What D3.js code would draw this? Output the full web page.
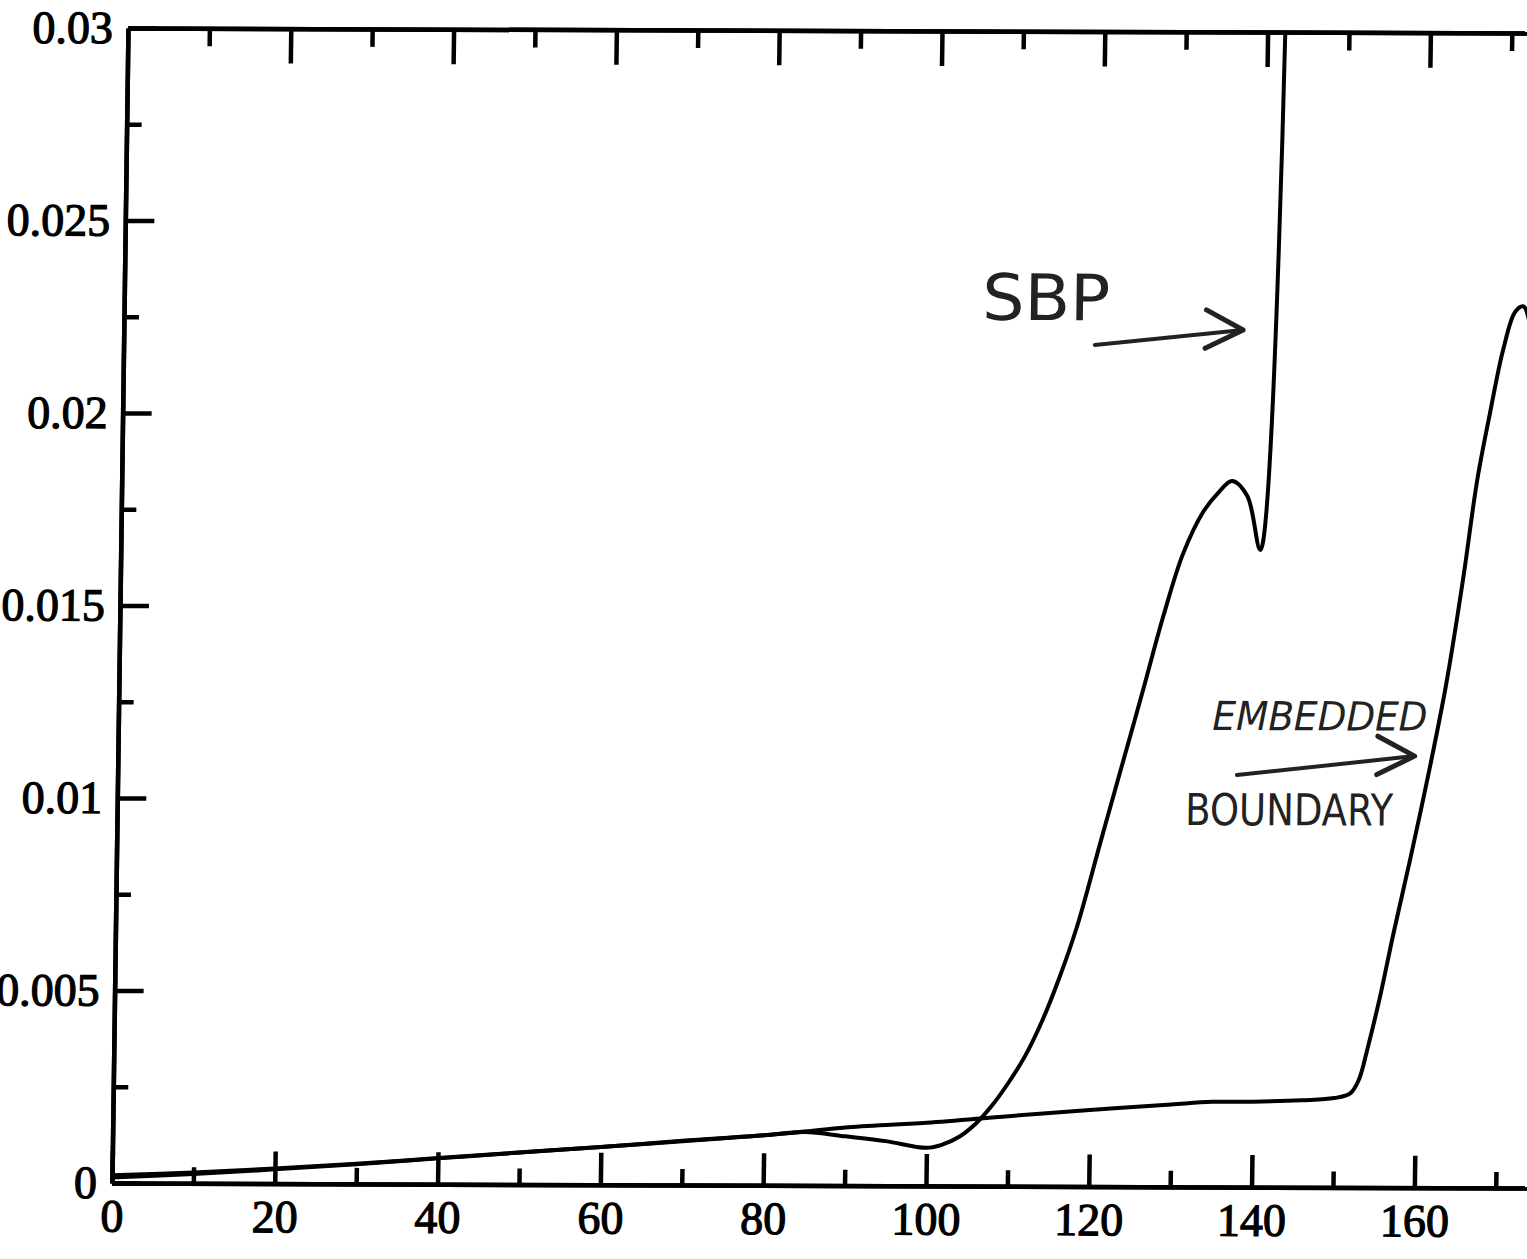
<!DOCTYPE html>
<html>
<head>
<meta charset="utf-8">
<script src="https://d3js.org/d3.v7.min.js"></script>
<style>
  body { margin: 0; background: #fff; }
  svg { display: block; }
</style>
</head>
<body>
<div id="chart"></div>
<script>
// values
const sbpX = [0, 10, 20, 30, 40, 50, 60, 70, 80, 85, 90, 95, 100, 102, 104, 106, 108, 110, 112, 114, 116, 118.1, 120.8, 123.5, 125.8, 128.2, 130.5, 132.9, 134.8, 136.4, 138.3, 140.0, 142.2];
const sbpY = [0.00014, 0.00024, 0.00037, 0.00051, 0.00067, 0.00083, 0.00098, 0.00114, 0.0013, 0.00139, 0.00128, 0.00116, 0.00099, 0.00108, 0.00128, 0.00162, 0.0021, 0.0027, 0.0034, 0.0043, 0.0054, 0.00674, 0.0089, 0.01105, 0.01288, 0.01483, 0.01644, 0.01753, 0.01805, 0.01834, 0.01795, 0.01655, 0.0305];

const embX = [0, 10, 20, 30, 40, 50, 60, 70, 80, 85, 90, 100, 110, 120, 130, 135, 140, 146, 150, 152, 153, 154, 155.5, 157, 158.9, 161.2, 163.1, 165, 166.5, 168, 169.5, 170.9, 171.9, 173, 174.5];
const embY = [0.0002, 0.00028, 0.00039, 0.00052, 0.00068, 0.00083, 0.00098, 0.00115, 0.0013, 0.0014, 0.00151, 0.00164, 0.00182, 0.00199, 0.00214, 0.00221, 0.00222, 0.00226, 0.00232, 0.00245, 0.0028, 0.0036, 0.005, 0.0066, 0.0085, 0.01093, 0.01314, 0.01589, 0.01836, 0.02016, 0.02179, 0.02276, 0.0229, 0.0222, 0.021];

const xMajor = [0, 20, 40, 60, 80, 100, 120, 140, 160];
const xMinor = [10, 30, 50, 70, 90, 110, 130, 150, 170];
const yMajor = [0, 0.005, 0.01, 0.015, 0.02, 0.025, 0.03];
const yMinor = [0.0025, 0.0075, 0.0125, 0.0175, 0.0225, 0.0275];
const yTickLabels = ["0", "0.005", "0.01", "0.015", "0.02", "0.025", "0.03"];

// handwritten notes on the scan
const noteText = ["SBP", "EMBEDDED", "BOUNDARY"];
const noteX = [105.4, 134.4, 131.2];
const noteY = [0.0225, 0.01187, 0.0094];
const arrowFrom = [[119.3, 0.02186], [137.5, 0.0107]];
const arrowTo = [[137.5, 0.02226], [159.3, 0.01121]];

const svgWidth = 1527;
const svgHeight = 1259;
const width = 180 * 8.14;
const height = 1155;

const svg = d3.select("#chart")
  .append("svg")
  .attr("width", svgWidth)
  .attr("height", svgHeight);

// the scan is a little skewed, so the whole plot is sheared to match
const g = svg.append("g")
  .attr("transform", "matrix(1,0.0036,-0.0139,1,128,28)");

const x = d3.scaleLinear().domain([0, 180]).range([0, width]);
const y = d3.scaleLinear().domain([0, 0.03]).range([height, 0]);

g.append("clipPath").attr("id", "plot-clip")
  .append("rect").attr("width", width).attr("height", height);

const lineWidth = 4.5;

function styleAxis(sel) {
  sel.select(".domain").attr("stroke", "#000").attr("stroke-width", lineWidth);
  sel.selectAll(".tick line").attr("stroke", "#000").attr("stroke-width", lineWidth);
  sel.selectAll(".tick text")
    .attr("fill", "#000")
    .attr("stroke", "#000")
    .attr("stroke-width", 1.2)
    .style("font-family", "'Liberation Serif', 'Times New Roman', serif")
    .style("font-size", "46px");
}

// bottom axis
g.append("g")
  .attr("transform", `translate(0,${height})`)
  .call(d3.axisBottom(x).tickValues(xMinor).tickSizeInner(-16).tickSizeOuter(0).tickFormat(""))
  .call(styleAxis);
g.append("g")
  .attr("transform", `translate(0,${height})`)
  .call(d3.axisBottom(x).tickValues(xMajor).tickSizeInner(-32).tickSizeOuter(0).tickPadding(16).tickFormat(d3.format("d")))
  .call(styleAxis);

// top axis
g.append("g")
  .call(d3.axisTop(x).tickValues(xMinor).tickSizeInner(-18).tickSizeOuter(0).tickFormat(""))
  .call(styleAxis);
g.append("g")
  .call(d3.axisTop(x).tickValues(xMajor.slice(1)).tickSizeInner(-35).tickSizeOuter(0).tickFormat(""))
  .call(styleAxis);

// left axis
g.append("g")
  .call(d3.axisLeft(y).tickValues(yMinor).tickSizeInner(-15).tickSizeOuter(0).tickFormat(""))
  .call(styleAxis);
g.append("g")
  .call(d3.axisLeft(y).tickValues(yMajor).tickSizeInner(-29).tickSizeOuter(0).tickPadding(15)
    .tickFormat((d, i) => yTickLabels[i]))
  .call(styleAxis);

// curves
const line = d3.line()
  .x(d => x(d[0]))
  .y(d => y(d[1]))
  .curve(d3.curveCatmullRom.alpha(0.5));

const series = [
  d3.zip(sbpX, sbpY),
  d3.zip(embX, embY)
];

g.append("g")
  .attr("clip-path", "url(#plot-clip)")
  .selectAll("path")
  .data(series)
  .join("path")
  .attr("d", line)
  .attr("fill", "none")
  .attr("stroke", "#000")
  .attr("stroke-width", 4)
  .attr("stroke-linejoin", "round");

// notes
const noteSize = [64, 40, 44];
const noteLength = [128, 215, 208];
g.selectAll(".note")
  .data(noteText)
  .join("text")
  .attr("class", "note")
  .attr("x", (d, i) => x(noteX[i]))
  .attr("y", (d, i) => y(noteY[i]))
  .attr("textLength", (d, i) => noteLength[i])
  .attr("lengthAdjust", "spacingAndGlyphs")
  .attr("fill", "#222")
  .style("font-family", "'DejaVu Sans', sans-serif")
  .style("font-style", (d, i) => i === 1 ? "italic" : "normal")
  .style("font-size", (d, i) => noteSize[i] + "px")
  .text(d => d);

const arrows = g.append("g")
  .attr("stroke", "#222")
  .attr("fill", "none")
  .attr("stroke-linecap", "round")
  .attr("stroke-linejoin", "round");

arrowFrom.forEach((a, i) => {
  const b = arrowTo[i];
  const x1 = x(a[0]), y1 = y(a[1]), x2 = x(b[0]), y2 = y(b[1]);
  const ang = Math.atan2(y2 - y1, x2 - x1);
  const len = 42;
  arrows.append("line")
    .attr("x1", x1).attr("y1", y1).attr("x2", x2).attr("y2", y2)
    .attr("stroke-width", 4);
  const p1 = [x2 - len * Math.cos(ang - 0.35), y2 - len * Math.sin(ang - 0.35)];
  const p2 = [x2 - len * Math.cos(ang + 0.6), y2 - len * Math.sin(ang + 0.6)];
  arrows.append("path")
    .attr("d", `M${p1[0]},${p1[1]}L${x2},${y2}L${p2[0]},${p2[1]}`)
    .attr("stroke-width", 5);
});
</script>
</body>
</html>
